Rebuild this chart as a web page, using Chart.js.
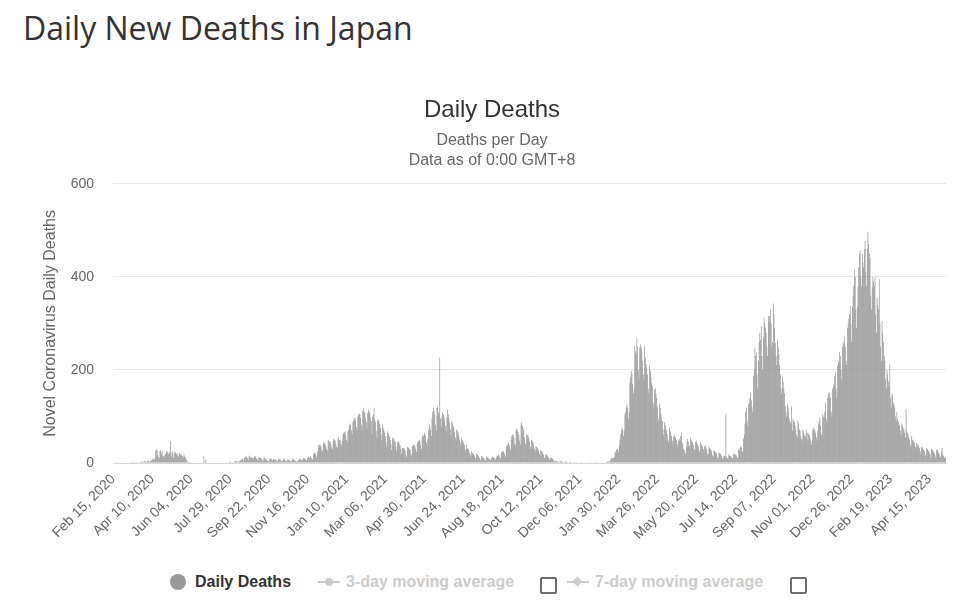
<!DOCTYPE html>
<html lang="en">
<head>
<meta charset="UTF-8">
<title>Daily New Deaths in Japan</title>
<script src="https://cdn.jsdelivr.net/npm/chart.js"></script>
<style>
    body {
        margin: 0;
        background: #fff;
        font-family: "Liberation Sans", Arial, sans-serif;
    }
    #page {
        position: relative;
        width: 963px;
        height: 606px;
        overflow: hidden;
    }
    h1 {
        position: absolute;
        left: 23px;
        top: 6px;
        margin: 0;
        font-family: "Open Sans", sans-serif;
        font-weight: 400;
        font-size: 32px;
        line-height: 44px;
        color: #333;
    }
    .chart-box {
        position: absolute;
        left: 0;
        top: 80px;
        width: 963px;
        height: 490px;
    }
    .lg {
        position: absolute;
        font-weight: bold;
        font-size: 16px;
        line-height: 20px;
        top: 572px;
        white-space: nowrap;
    }
    .dot {
        position: absolute;
        left: 170px;
        top: 574px;
        width: 16px;
        height: 16px;
        border-radius: 50%;
        background: #999;
    }
    .line {
        position: absolute;
        top: 581px;
        width: 22px;
        height: 2px;
        background: #ccc;
    }
    .line i {
        position: absolute;
        left: 7px;
        top: -3px;
        width: 8px;
        height: 8px;
        background: #ccc;
        border-radius: 50%;
    }
    .line i.diamond {
        border-radius: 0;
        transform: rotate(45deg);
        width: 7px;
        height: 7px;
    }
    .box {
        position: absolute;
        top: 577px;
        width: 13px;
        height: 13px;
        border: 2px solid #6d6d6d;
        border-radius: 2px;
    }
</style>
</head>
<body>
<div id="page">
    <h1>Daily New Deaths in Japan</h1>
    <div class="chart-box"><canvas id="deathsChart"></canvas></div>

    <span class="dot"></span>
    <span class="lg" style="left:195px; color:#333;">Daily Deaths</span>
    <span class="line" style="left:318px;"><i></i></span>
    <span class="lg" style="left:346px; color:#ccc;">3-day moving average</span>
    <span class="box" style="left:540px;"></span>
    <span class="line" style="left:567px;"><i class="diamond"></i></span>
    <span class="lg" style="left:595px; color:#ccc;">7-day moving average</span>
    <span class="box" style="left:790px;"></span>
</div>
<script>
    // muertes diarias, una fila por mes
    const deaths2020 = [
        0,0,0,0,0,1,0,0,0,1,1,0,1,0,1,                                            // feb (desde 15)
        0,1,0,1,1,1,1,0,1,1,2,1,2,1,0,1,2,1,2,1,0,0,1,2,2,3,2,1,3,5,4,              // mar
        3,2,4,3,6,2,5,6,5,7,9,8,6,12,28,29,16,27,13,10,25,28,22,26,14,15,12,20,18,24, // abr
        26,22,18,24,20,47,14,22,25,12,19,24,22,20,21,16,14,20,22,18,17,16,15,12,18,14,12,8,5,3,2, // may
        1,2,1,0,2,1,0,1,1,0,1,0,0,1,1,0,1,0,1,0,0,15,2,3,8,0,1,0,0,1,               // jun
        0,1,0,0,1,0,0,0,1,0,0,0,0,1,0,0,1,0,0,1,0,0,1,0,0,0,1,2,1,3,1,              // jul
        2,1,1,3,2,4,3,5,2,1,4,5,6,8,7,9,4,12,10,13,15,12,10,6,14,16,12,10,13,11,8,  // ago
        12,15,14,10,9,8,5,13,12,11,10,9,6,4,10,12,8,9,7,5,3,4,8,9,10,8,6,5,9,7,     // sep
        8,7,5,3,6,9,8,7,6,4,3,7,9,8,6,5,3,6,8,7,6,5,4,3,8,9,7,6,5,4,3,              // oct
        4,3,6,8,7,9,6,5,8,10,11,9,8,7,6,12,14,13,10,15,12,9,8,18,20,22,21,16,11,24, // nov
        38,33,40,38,35,28,26,42,45,43,40,36,30,27,50,48,46,45,40,33,30,47,52,50,48,41,35,33,53,56,49 // dic
    ];
    const deaths2021 = [
        50,42,38,48,60,64,66,68,60,50,45,68,72,80,85,82,70,62,88,92,95,97,90,78,70,100,104,106,105,98,82,
        70,112,119,110,108,96,88,72,108,115,112,108,98,90,62,100,104,119,95,88,70,55,92,94,88,84,76,62,
        48,82,76,70,65,58,45,35,68,64,60,56,50,40,28,55,54,52,48,45,35,26,44,47,45,40,38,30,20,33,32,
        32,30,26,18,14,35,34,33,30,28,22,16,36,38,40,38,35,30,24,42,45,48,50,46,38,30,55,60,58,65,
        62,58,45,40,52,70,84,80,72,58,96,110,119,112,104,82,70,118,122,108,110,226,95,78,100,110,105,100,92,80,68,
        98,115,104,96,88,72,60,90,86,80,76,66,55,48,72,70,66,58,50,44,36,55,50,47,42,38,30,25,40,33,
        30,28,22,18,14,25,22,20,18,16,12,9,20,18,17,14,12,8,6,15,14,12,10,9,6,5,14,13,12,10,9,
        8,6,10,12,14,13,11,9,7,12,16,15,18,16,12,10,22,24,25,26,22,18,14,34,38,40,44,40,36,28,50,
        58,62,60,55,42,38,68,74,70,66,60,48,40,82,87,80,74,69,55,42,40,62,60,58,54,46,35,30,50,48,
        45,40,30,25,36,35,33,30,26,20,16,28,26,24,20,17,12,9,19,18,16,14,12,8,6,12,11,10,8,7,4,
        3,5,4,3,4,2,1,4,3,5,2,2,1,0,3,2,4,2,1,0,1,2,3,1,0,1,0,2,1,2,
        1,2,1,0,0,1,0,1,2,1,0,0,1,0,1,0,1,0,0,1,2,1,0,1,0,0,1,1,2,1,0
    ];
    const deaths2022 = [
        0,1,0,0,1,0,1,0,0,1,0,1,2,3,4,3,2,6,8,10,9,12,11,13,22,24,28,30,29,24,38,
        50,62,70,76,72,58,70,105,110,120,126,118,95,110,172,185,198,190,170,150,160,252,240,234,268,250,200,180,
        248,255,250,240,220,190,180,252,226,212,205,190,160,150,210,198,185,172,165,130,120,158,160,150,140,120,95,90,126,118,105,
        98,90,72,60,88,82,76,70,62,50,45,75,69,66,58,48,40,58,62,56,54,50,42,35,48,52,50,58,66,45,
        40,30,28,22,20,35,48,52,45,38,35,55,50,46,44,40,30,28,45,48,42,40,36,28,24,44,40,38,35,30,22,
        36,37,32,28,20,18,34,32,30,28,24,16,14,28,26,24,22,20,12,10,22,21,20,18,15,10,8,16,15,14,
        105,12,10,8,18,16,15,14,13,10,8,18,20,17,19,16,12,10,30,28,32,36,34,26,22,52,62,85,110,119,90,
        80,126,130,140,151,135,120,110,187,200,248,230,237,190,160,220,260,280,265,294,230,200,270,312,301,290,280,250,230,316,305,
        316,330,300,250,260,343,320,290,258,230,210,265,250,233,210,190,160,150,183,175,160,150,122,110,100,126,120,110,94,88,
        85,122,70,95,90,88,80,72,60,55,91,85,72,70,58,52,48,72,68,58,62,55,72,50,65,62,60,55,48,40,51,
        72,75,70,72,65,55,48,69,85,90,98,80,62,60,105,100,98,110,130,95,88,140,151,145,151,140,110,100,160,165,
        170,187,195,160,140,209,220,215,238,230,200,180,250,260,255,273,250,220,210,290,300,310,320,338,300,260,335,360,380,416,400
    ];
    const deaths2023 = [
        330,290,337,380,420,450,456,400,380,449,430,420,460,477,410,380,460,497,470,450,441,360,330,377,400,390,380,398,320,280,355,
        340,330,395,300,250,220,305,280,260,230,219,180,160,200,190,175,165,212,140,120,150,145,130,125,119,100,90,110,
        95,88,80,82,70,60,85,80,75,72,65,55,116,70,65,60,55,50,40,35,58,50,48,45,42,35,30,44,40,38,36,
        32,25,18,35,33,30,28,26,20,15,32,30,28,25,22,18,12,30,29,27,24,20,16,12,28,30,26,22,18,14,
        12,25,32,20,15,12,10,14
    ];

    // etiquetas del eje x (una cada 55 días)
    const tickLabels = [
        'Feb 15, 2020', 'Apr 10, 2020', 'Jun 04, 2020', 'Jul 29, 2020', 'Sep 22, 2020', 'Nov 16, 2020',
        'Jan 10, 2021', 'Mar 06, 2021', 'Apr 30, 2021', 'Jun 24, 2021', 'Aug 18, 2021', 'Oct 12, 2021',
        'Dec 06, 2021', 'Jan 30, 2022', 'Mar 26, 2022', 'May 20, 2022', 'Jul 14, 2022', 'Sep 07, 2022',
        'Nov 01, 2022', 'Dec 26, 2022', 'Feb 19, 2023', 'Apr 15, 2023'
    ];
    const tickStep = 55;
    const startDate = '2020-02-15';

    const deaths = deaths2020.concat(deaths2021, deaths2022, deaths2023);

    const days = [];
    const t0 = Date.parse(startDate + 'T00:00:00Z');
    for (let i = 0; i < deaths.length; i++) {
        days.push(new Date(t0 + i * 86400000).toISOString().slice(0, 10));
    }

    const sans = '"Liberation Sans", Arial, sans-serif';

    new Chart(document.getElementById('deathsChart'), {
        type: 'bar',
        data: {
            labels: days,
            datasets: [{
                label: 'Daily Deaths',
                data: deaths,
                backgroundColor: '#8a8a8a',
                borderWidth: 0,
                barPercentage: 0.9,
                categoryPercentage: 1
            }]
        },
        options: {
            responsive: true,
            maintainAspectRatio: false,
            animation: false,
            layout: { padding: { left: 38, right: 17, top: 0, bottom: 0 } },
            plugins: {
                legend: { display: false },
                tooltip: { enabled: false },
                title: {
                    display: true,
                    text: 'Daily Deaths',
                    color: '#333333',
                    font: { family: sans, size: 24, weight: 'normal' },
                    padding: { top: 16, bottom: 6 }
                },
                subtitle: {
                    display: true,
                    text: ['Deaths per Day', 'Data as of 0:00 GMT+8'],
                    color: '#666666',
                    font: { family: sans, size: 16, lineHeight: 1.25 },
                    padding: { top: 0, bottom: 13 }
                }
            },
            scales: {
                x: {
                    grid: { display: false, drawTicks: false },
                    border: { display: true, color: '#ccd6eb' },
                    ticks: {
                        autoSkip: false,
                        minRotation: 45,
                        maxRotation: 45,
                        padding: 8,
                        color: '#666666',
                        font: { family: sans, size: 14 },
                        callback: function(value, index) {
                            return index % tickStep === 0 ? tickLabels[index / tickStep] : null;
                        }
                    },
                    afterFit: function(scale) { scale.height = 107; }
                },
                y: {
                    min: 0,
                    max: 600,
                    ticks: {
                        stepSize: 200,
                        padding: 19,
                        color: '#666666',
                        font: { family: sans, size: 14 }
                    },
                    grid: { color: '#e6e6e6', drawTicks: false },
                    border: { display: false },
                    title: {
                        display: true,
                        text: 'Novel Coronavirus Daily Deaths',
                        color: '#666666',
                        font: { family: sans, size: 16 },
                        padding: { top: 3, bottom: 0 }
                    },
                    afterFit: function(scale) { scale.width = 75; }
                }
            }
        }
    });
</script>
</body>
</html>
